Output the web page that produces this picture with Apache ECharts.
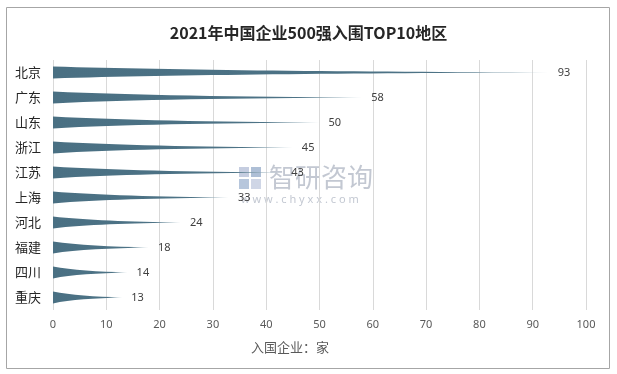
<!DOCTYPE html>
<html><head><meta charset="utf-8">
<script src="https://cdn.jsdelivr.net/npm/echarts@6/dist/echarts.min.js"></script>
<style>html,body{margin:0;padding:0;background:#fff}#c{width:617px;height:374px}</style>
</head><body><div id="c"></div>
<script>
const title = '2021年中国企业500强入围TOP10地区';
const categories = ['北京','广东','山东','浙江','江苏','上海','河北','福建','四川','重庆'];
const values = [93,58,50,45,43,33,24,18,14,13];
const xTicks = {min:0, max:100, interval:10};
const axisName = '入国企业：家';

const chart = echarts.init(document.getElementById('c'), null, {renderer:'canvas'});
chart.setOption({
  animation:false,
  backgroundColor:'#fff',
  title:{text:title,left:'center',top:20,textStyle:{fontFamily:'Noto Sans CJK SC',fontSize:16,fontWeight:'bold',color:'#262626'}},
  grid:{left:53,right:31,top:60,bottom:64,containLabel:false},
  xAxis:{type:'value',min:xTicks.min,max:xTicks.max,interval:xTicks.interval,
    axisLine:{show:false},axisTick:{show:false},
    axisLabel:{color:'#595959',fontSize:11,fontFamily:'Noto Sans',margin:9},
    splitLine:{show:true,lineStyle:{color:'#d9d9d9',width:1}}},
  yAxis:{type:'category',data:categories,inverse:true,
    axisLine:{show:false},axisTick:{show:false},
    axisLabel:{color:'#262626',fontSize:13,fontFamily:'Noto Sans CJK SC',margin:12}},
  graphic:[
    {type:'rect',shape:{x:6.5,y:7.5,width:603,height:361},style:{fill:'none',stroke:'#a6a6a6',lineWidth:1},z:0},
    {type:'text',left:251,top:341,style:{text:axisName,fill:'#595959',font:'13px "Noto Sans CJK SC"'}},
    {type:'group',left:239,top:164,z:1,children:[
      {type:'rect',shape:{x:0,y:0,width:10,height:10},style:{fill:'#c5cde0'}},
      {type:'rect',shape:{x:12,y:0,width:10,height:10},style:{fill:'#aebfd6'}},
      {type:'rect',shape:{x:0,y:12,width:10,height:10},style:{fill:'#b6c6dc'}},
      {type:'rect',shape:{x:12,y:12,width:10,height:10},style:{fill:'#cfd6e6'}},
      {type:'text',x:30,y:-3,style:{text:'智研咨询',fill:'#c3c8d2',font:'26px "Noto Sans CJK SC"'}},
      {type:'text',x:2,y:27,style:{text:'w w w . c h y x x . c o m',fill:'#c3c8d2',font:'11px "Noto Sans"'}}
    ]}
  ],
  series:[{
    type:'pictorialBar',
    data:values,
    symbol:'path://M0,0 C25,30 60,44 100,49 L100,51 C60,56 25,70 0,100 Z',
    symbolSize:['100%',12],
    symbolPosition:'start',
    symbolRepeat:false,
    itemStyle:{color:new echarts.graphic.LinearGradient(0,0,1,0,[
      {offset:0,color:'#4a7083'},{offset:0.8,color:'#4d7386'},{offset:1,color:'#c9d7de'}])},
    label:{show:true,position:'right',distance:9,color:'#404040',fontSize:11,fontFamily:'Noto Sans'},
    z:3
  }]
});
</script></body></html>
